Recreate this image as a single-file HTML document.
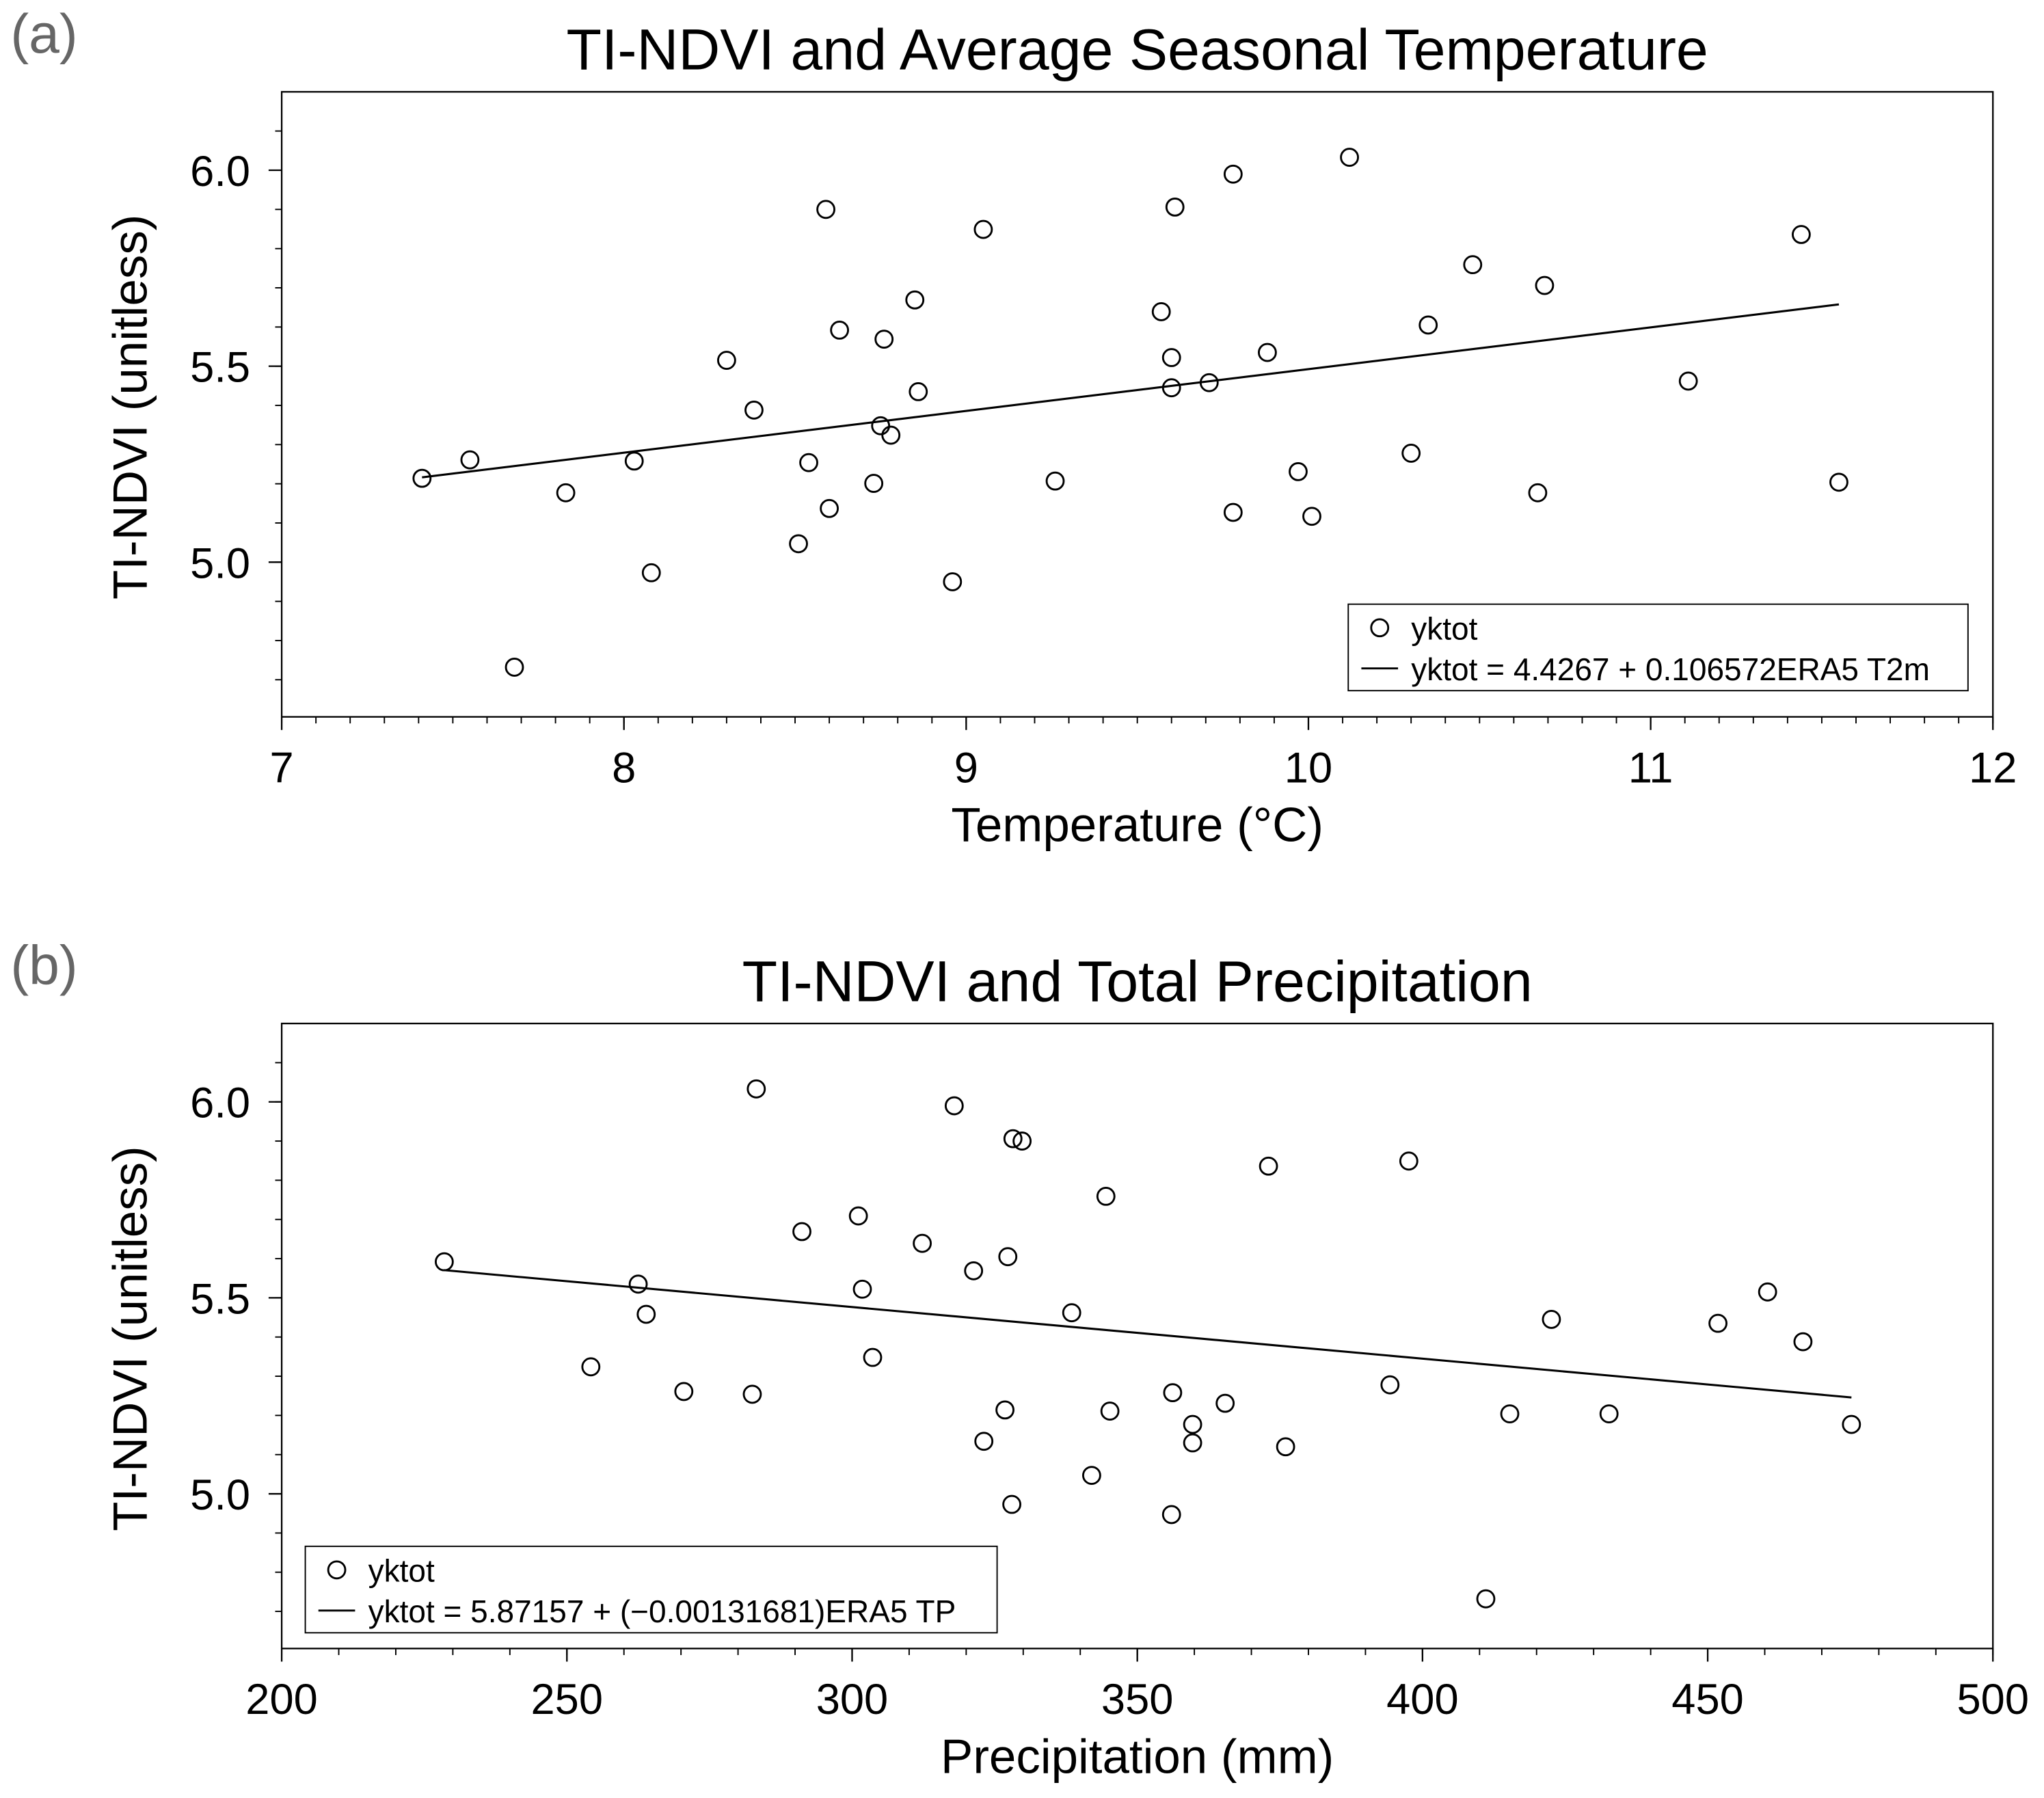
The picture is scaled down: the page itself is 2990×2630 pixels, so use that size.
<!DOCTYPE html>
<html><head><meta charset="utf-8"><style>
html,body{margin:0;padding:0;background:#fff;}
svg{display:block;font-family:"Liberation Sans",Arial,sans-serif;}
</style></head><body>
<svg id="fig" width="2990" height="2630" viewBox="0 0 1560 1372">
<rect width="1560" height="1372" fill="#fff"/>
</svg>
<script>
const tempX=[7.41,7.55,7.68,7.83,8.03,8.08,8.30,8.38,8.51,8.54,8.59,8.60,8.63,8.73,8.75,8.76,8.78,8.85,8.86,8.96,9.05,9.26,9.57,9.60,9.60,9.61,9.71,9.78,9.78,9.88,9.97,10.01,10.12,10.30,10.35,10.48,10.67,10.69,11.11,11.44,11.55];
const tempY=[5.214,5.261,4.732,5.177,5.258,4.973,5.515,5.388,5.047,5.254,5.900,5.137,5.592,5.201,5.348,5.569,5.324,5.669,5.435,4.950,5.849,5.207,5.639,5.522,5.445,5.906,5.458,5.990,5.127,5.535,5.231,5.117,6.033,5.278,5.605,5.759,5.177,5.706,5.462,5.836,5.204];
const precX=[228.5,254.2,262.5,263.9,270.5,282.5,283.2,291.2,301.1,301.8,303.6,312.3,317.9,321.3,323.1,326.8,327.3,328.0,328.2,329.8,338.5,342.0,344.5,345.2,356.0,356.2,359.7,359.7,365.4,373.0,376.0,394.3,397.6,411.1,415.3,422.6,432.7,451.8,460.5,466.7,475.2];
const precY=[5.592,5.324,5.535,5.458,5.261,5.254,6.033,5.669,5.709,5.522,5.348,5.639,5.990,5.569,5.134,5.214,5.605,4.973,5.906,5.900,5.462,5.047,5.759,5.211,4.947,5.258,5.177,5.130,5.231,5.836,5.120,5.278,5.849,4.732,5.204,5.445,5.204,5.435,5.515,5.388,5.177];
const fitA=[4.4267,0.106572];
const fitB=[5.87157,-0.00131681];
const yTicks=[5.0,5.5,6.0];
const xTicksA=[7,8,9,10,11,12];
const xTicksB=[200,250,300,350,400,450,500];

const NS='http://www.w3.org/2000/svg';
const svg=document.getElementById('fig');
function mk(tag,attrs,parent){const e=document.createElementNS(NS,tag);for(const k in attrs)e.setAttribute(k,attrs[k]);(parent||svg).appendChild(e);return e;}
function txt(s,attrs,parent){const e=mk('text',attrs,parent);e.textContent=s;return e;}

function panel(o){
  const g=mk('g',{});
  
  
  const L=215,R=1521,T=o.top,B=o.top+477;
  const sx=v=>L+(v-o.xmin)/(o.xmax-o.xmin)*(R-L);
  const sy=v=>B-(v-o.ymin)/(o.ymax-o.ymin)*(B-T);
  const frame=mk('rect',{x:L,y:T,width:R-L,height:B-T,fill:'none',stroke:'#000','stroke-width':1.2},g);
  
  
  for(let v=4.7;v<=6.15;v+=0.1){const y=sy(v);mk('line',{x1:L-5,x2:L,y1:y,y2:y,stroke:'#000','stroke-width':1},g);}
  yTicks.forEach(v=>{const y=sy(v);mk('line',{x1:L-10,x2:L,y1:y,y2:y,stroke:'#000','stroke-width':1.2},g);
    const t=txt(v.toFixed(1),{x:L-24,y:y+12,'font-size':33,'text-anchor':'end'},g);
    });
  const step=o.minor;
  for(let v=o.xmin;v<=o.xmax+1e-9;v+=step){const x=sx(v);mk('line',{x1:x,x2:x,y1:B,y2:B+5,stroke:'#000','stroke-width':1},g);}
  o.xt.forEach(v=>{const x=sx(v);mk('line',{x1:x,x2:x,y1:B,y2:B+10,stroke:'#000','stroke-width':1.2},g);
    const t=txt(String(v),{x:x,y:B+50,'font-size':33,'text-anchor':'middle'},g);
    });
  const tt=txt(o.title,{x:868,y:T-17,'font-size':44,'text-anchor':'middle'},g);
  
  const xl=txt(o.xlabel,{x:868,y:B+95,'font-size':37,'text-anchor':'middle'},g);
  
  const yl=txt('TI-NDVI (unitless)',{x:0,y:0,'font-size':37,'text-anchor':'middle',transform:`translate(112,${(T+B)/2+2}) rotate(-90)`},g);
  
  const pl=txt(o.label,{x:8,y:T-30,'font-size':42,fill:'#666'},g);
  
  const x0=Math.min(...o.xs),x1=Math.max(...o.xs);
  const fl=mk('line',{x1:sx(x0),y1:sy(o.fit[0]+o.fit[1]*x0),x2:sx(x1),y2:sy(o.fit[0]+o.fit[1]*x1),stroke:'#000','stroke-width':1.6},g);
  
  o.xs.forEach((xv,i)=>{const c=mk('circle',{cx:sx(xv),cy:sy(o.ys[i]),r:6.5,fill:'none',stroke:'#000','stroke-width':1.5},g);
    });
  const lg=mk('g',{},g);
  
  
  const lx=o.leg[0],ly=o.leg[1];
  mk('rect',{x:lx,y:ly,width:o.leg[2],height:66,fill:'#fff',stroke:'#000','stroke-width':1},lg);
  mk('circle',{cx:lx+24,cy:ly+18,r:6.5,fill:'none',stroke:'#000','stroke-width':1.5},lg);
  txt('yktot',{x:lx+48,y:ly+27,'font-size':24},lg);
  mk('line',{x1:lx+10,x2:lx+38,y1:ly+49,y2:ly+49,stroke:'#000','stroke-width':1.5},lg);
  txt(o.legtxt,{x:lx+48,y:ly+58,'font-size':24},lg);
}
panel({name:'panel-a-temperature',top:70,xmin:7,xmax:12,minor:0.1,ymin:4.6053,ymax:6.2,xs:tempX,ys:tempY,fit:fitA,xt:xTicksA,
  title:'TI-NDVI and Average Seasonal Temperature',xlabel:'Temperature (°C)',label:'(a)',leg:[1029,461,473],legtxt:'yktot = 4.4267 + 0.106572ERA5 T2m'});
panel({name:'panel-b-precipitation',top:781,xmin:200,xmax:500,minor:10,ymin:4.6053,ymax:6.2,xs:precX,ys:precY,fit:fitB,xt:xTicksB,
  title:'TI-NDVI and Total Precipitation',xlabel:'Precipitation (mm)',label:'(b)',leg:[233,1180,528],legtxt:'yktot = 5.87157 + (−0.00131681)ERA5 TP'});
</script>
</body></html>
